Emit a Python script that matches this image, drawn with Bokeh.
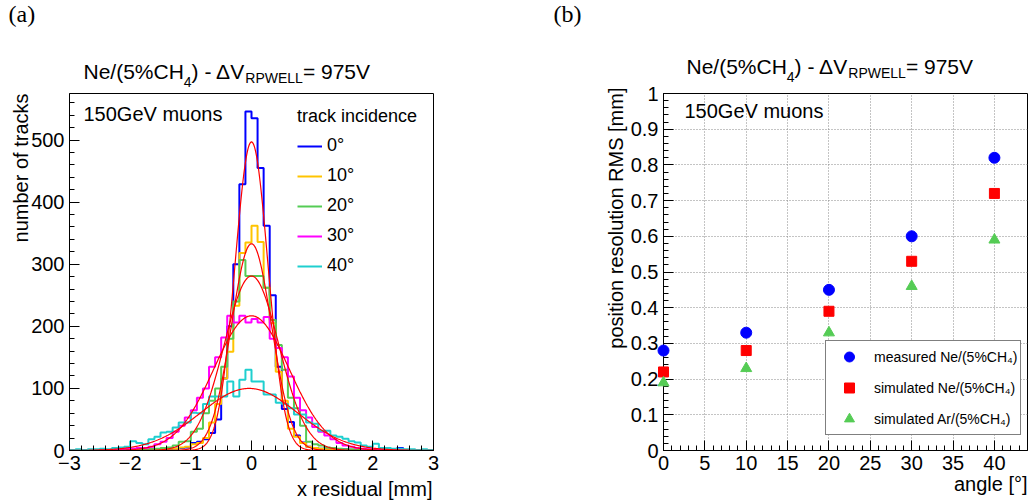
import numpy as np
from bokeh.plotting import figure
from bokeh.models import Range1d, FixedTicker, Label, Legend, LegendItem, GridBox
from bokeh.layouts import row
from bokeh.embed import file_html
from bokeh.resources import INLINE

# ---------------- data: panel (a) ----------------
bin_lo = -3.0
bin_width = 0.1
hist_labels = ["0°", "10°", "20°", "30°", "40°"]
counts_0 = [0, 0, 1, 0, 1, 0, 1, 0, 1, 1,
            2, 1, 2, 3, 2, 3, 2, 3, 4, 5,
            12, 14, 18, 28, 50, 116, 200, 300, 429, 546,
            535, 455, 362, 250, 135, 67, 46, 24, 13, 6,
            4, 3, 2, 2, 1, 2, 1, 1, 1, 0,
            1, 1, 2, 1, 4, 1, 0, 1, 0, 0]
counts_10 = [0, 1, 0, 0, 1, 0, 1, 1, 0, 1,
             1, 2, 1, 2, 2, 2, 3, 3, 5, 6,
             10, 12, 20, 45, 75, 116, 159, 233, 318, 335,
             362, 336, 262, 205, 127, 80, 35, 22, 12, 6,
             4, 3, 2, 2, 1, 1, 1, 2, 1, 0,
             1, 0, 1, 1, 0, 1, 0, 0, 1, 0]
counts_20 = [0, 0, 1, 1, 0, 1, 1, 2, 1, 2,
             2, 3, 2, 2, 3, 4, 5, 8, 14, 15,
             30, 35, 60, 80, 100, 135, 180, 240, 307, 281,
             281, 281, 262, 210, 170, 130, 85, 68, 40, 14,
             10, 8, 5, 4, 3, 2, 2, 2, 1, 1,
             1, 1, 0, 1, 0, 1, 0, 1, 0, 0]
counts_30 = [0, 1, 0, 1, 1, 1, 1, 2, 2, 3,
             3, 4, 4, 6, 10, 14, 20, 30, 40, 53,
             65, 85, 100, 135, 150, 182, 217, 206, 217, 206,
             212, 206, 215, 180, 165, 150, 119, 85, 65, 53,
             38, 30, 24, 18, 12, 8, 6, 4, 3, 2,
             2, 1, 1, 1, 1, 0, 1, 0, 1, 0]
counts_40 = [1, 2, 1, 2, 2, 3, 2, 4, 5, 6,
             15, 12, 10, 18, 22, 29, 30, 37, 45, 45,
             61, 60, 75, 87, 87, 87, 111, 87, 114, 130,
             111, 111, 90, 90, 77, 75, 68, 58, 58, 45,
             43, 32, 32, 24, 22, 19, 15, 13, 8, 6,
             11, 4, 4, 3, 3, 2, 2, 1, 2, 1]
# gaussian fit parameters (amplitude, mean, sigma) per angle
fit_amp = [497, 333, 281, 217, 100]
fit_mean = [0.0, 0.0, 0.0, 0.0, -0.04]
fit_sigma = [0.27, 0.33, 0.45, 0.62, 0.80]

# ---------------- data: panel (b) ----------------
angles = [0, 10, 20, 30, 40]
meas_ne = [0.28, 0.33, 0.45, 0.60, 0.82]
sim_ne = [0.22, 0.28, 0.39, 0.53, 0.72]
sim_ar = [0.19, 0.23, 0.33, 0.46, 0.59]
legend_b = ["measured Ne/(5%CH\u2084)", "simulated Ne/(5%CH\u2084)", "simulated Ar/(5%CH\u2084)"]

x_ticks_a = [-3, -2, -1, 0, 1, 2, 3]
y_ticks_a = [0, 100, 200, 300, 400, 500]
x_ticks_b = [0, 5, 10, 15, 20, 25, 30, 35, 40]
y_ticks_b = [0, 0.1, 0.2, 0.3, 0.4, 0.5, 0.6, 0.7, 0.8, 0.9, 1.0]
y_labels_b = ["0", "0.1", "0.2", "0.3", "0.4", "0.5", "0.6", "0.7", "0.8", "0.9", "1"]

FONT = "Liberation Sans"
hist_colors = ["#0000ff", "#ffc400", "#55cc55", "#ff00ff", "#1fcfcf"]
W, H = 1030, 504

# char widths (em) for placing composed titles
CW = {"N": .722, "e": .556, "/": .278, "(": .333, "5": .556, "%": .889, "C": .722,
      "H": .722, ")": .333, " ": .278, "-": .333, "\u0394": .668, "V": .667, "R": .722,
      "P": .667, "W": .944, "E": .667, "L": .556, "=": .584, "9": .556, "7": .556, "4": .556}


def tw(s, size):
    return sum(CW.get(c, .556) for c in s) * size


def style_axis(ax, ticks, minor):
    ax.ticker = FixedTicker(ticks=ticks, minor_ticks=minor)
    ax.major_label_text_font = FONT
    ax.major_label_text_font_size = "20px"
    ax.major_label_text_color = "black"
    ax.axis_line_color = "black"
    ax.major_tick_in = 10
    ax.major_tick_out = 0
    ax.minor_tick_in = 5
    ax.minor_tick_out = 0
    ax.major_tick_line_color = "black"
    ax.minor_tick_line_color = "black"
    ax.major_label_standoff = 5


# ================= panel (a) =================
p1 = figure(width=515, height=H, x_range=Range1d(-3, 3), y_range=Range1d(0, 575),
            output_backend="svg", toolbar_location=None, title=None,
            min_border_left=69, min_border_right=82, min_border_top=93, min_border_bottom=49)
p1.grid.visible = False
p1.outline_line_color = "black"
p1.outline_line_width = 1
style_axis(p1.xaxis[0], x_ticks_a, [round(-3 + 0.2 * i, 1) for i in range(31)])
p1.xaxis[0].major_label_overrides = {t: (("\u2212" + str(-t)) if t < 0 else str(t)) for t in x_ticks_a}
style_axis(p1.yaxis[0], y_ticks_a, list(range(0, 575, 20)))

edges = [round(bin_lo + bin_width * i, 2) for i in range(61)]
xs_fit = np.linspace(-3, 3, 601)
items = []
for counts, col, lab in zip([counts_0, counts_10, counts_20, counts_30, counts_40], hist_colors, hist_labels):
    r = p1.step(x=edges, y=counts + [counts[-1]], mode="after", line_color=col, line_width=2)
    items.append(LegendItem(label=lab, renderers=[r]))
for a, m, s in zip(fit_amp, fit_mean, fit_sigma):
    p1.line(xs_fit, a * np.exp(-0.5 * ((xs_fit - m) / s) ** 2), line_color="#ff0000", line_width=1.2)

leg1 = Legend(items=items, location=(228, 174), title="track incidence",
              title_text_font=FONT, title_text_font_size="18px", title_text_font_style="normal",
              title_text_color="black",
              title_standoff=8, label_text_font=FONT, label_text_font_size="18px", label_text_color="black",
              label_height=20, glyph_height=20, glyph_width=25, label_standoff=5,
              spacing=9, padding=0, margin=0, border_line_alpha=0, background_fill_alpha=0)
p1.add_layout(leg1)

# ================= panel (b) =================
p2 = figure(width=515, height=H, x_range=Range1d(0, 44), y_range=Range1d(0, 1),
            output_backend="svg", toolbar_location=None, title=None,
            min_border_left=148, min_border_right=3, min_border_top=87, min_border_bottom=54)
p2.outline_line_color = "black"
p2.outline_line_width = 1
style_axis(p2.xaxis[0], x_ticks_b, list(range(0, 45)))
style_axis(p2.yaxis[0], y_ticks_b, [round(0.02 * i, 2) for i in range(51)])
p2.yaxis[0].major_label_overrides = {t: l for t, l in zip(y_ticks_b, y_labels_b)}
p2.grid.grid_line_color = "#888888"
p2.grid.grid_line_dash = "1 2"
p2.grid.grid_line_width = 1

r_m = p2.scatter(angles, meas_ne, marker="circle", size=11, fill_color="#0000ff", line_color="#0000ff",
                 level="overlay")
r_s = p2.scatter(angles, sim_ne, marker="square", size=10, fill_color="#ff0000", line_color="#ff0000",
                 level="overlay")
r_a = p2.scatter(angles, sim_ar, marker="triangle", size=11, fill_color="#55cc55", line_color="#55cc55",
                 level="overlay")

leg2 = Legend(items=[LegendItem(label=legend_b[0], renderers=[r_m]),
                     LegendItem(label=legend_b[1], renderers=[r_s]),
                     LegendItem(label=legend_b[2], renderers=[r_a])],
              location=(162, 15), label_text_font=FONT, label_text_font_size="14px", label_text_color="black",
              label_height=25, glyph_height=25, glyph_width=40, label_standoff=5,
              spacing=6, padding=3, margin=0, border_line_color="black", border_line_width=1,
              background_fill_color="white", background_fill_alpha=1)
p2.add_layout(leg2)

# ================= text overlay (page pixel coordinates) =================
ov = figure(width=W, height=H, x_range=Range1d(0, W), y_range=Range1d(0, H), title=None,
            output_backend="svg", toolbar_location=None, x_axis_location=None, y_axis_location=None,
            min_border=0, min_border_left=0, min_border_right=0, min_border_top=0, min_border_bottom=0)
ov.grid.visible = False
ov.outline_line_color = None
ov.background_fill_alpha = 0
ov.border_fill_alpha = 0


def txt(px, base, text, size, font=FONT, align="left"):
    # place by baseline (page px); drawn with middle baseline
    k = 0.3375 if "Serif" in font else 0.3465
    ov.add_layout(Label(x=px, y=H - (base - k * size), text=text, text_font=font,
                        text_font_size=f"{size}px", text_align=align, text_baseline="middle",
                        text_color="black"))


def vtxt(px, top, text, size):
    ov.add_layout(Label(x=px, y=H - top, text=text, text_font=FONT, text_font_size=f"{size}px",
                        text_align="right", text_baseline="middle", text_color="black", angle=np.pi / 2))


def title(x0, base):
    pieces = [("Ne/(5%CH", 21, 0), ("4", 14, 8), (") - \u0394V", 21, 0),
              ("RPWELL", 14, 4), ("= 975V", 21, 0)]
    x = x0
    for t, sz, dy in pieces:
        txt(x, base + dy, t, sz)
        x += tw(t, sz)


title(83, 78)
title(686, 73)
txt(83, 120, "150GeV muons", 20)
txt(684, 117, "150GeV muons", 20)
txt(432, 495, "x residual [mm]", 20, align="right")
txt(1027, 490, "angle [°]", 20, align="right")
vtxt(20, 93, "number of tracks", 20)
vtxt(615, 87, "position resolution RMS [mm]", 20)
txt(8, 22, "(a)", 24, font="Liberation Serif")
txt(553, 22, "(b)", 24, font="Liberation Serif")

plots = row(p1, p2)
layout = GridBox(children=[(plots, 0, 0), (ov, 0, 0)])
open("out.html", "w").write(file_html(layout, INLINE))
